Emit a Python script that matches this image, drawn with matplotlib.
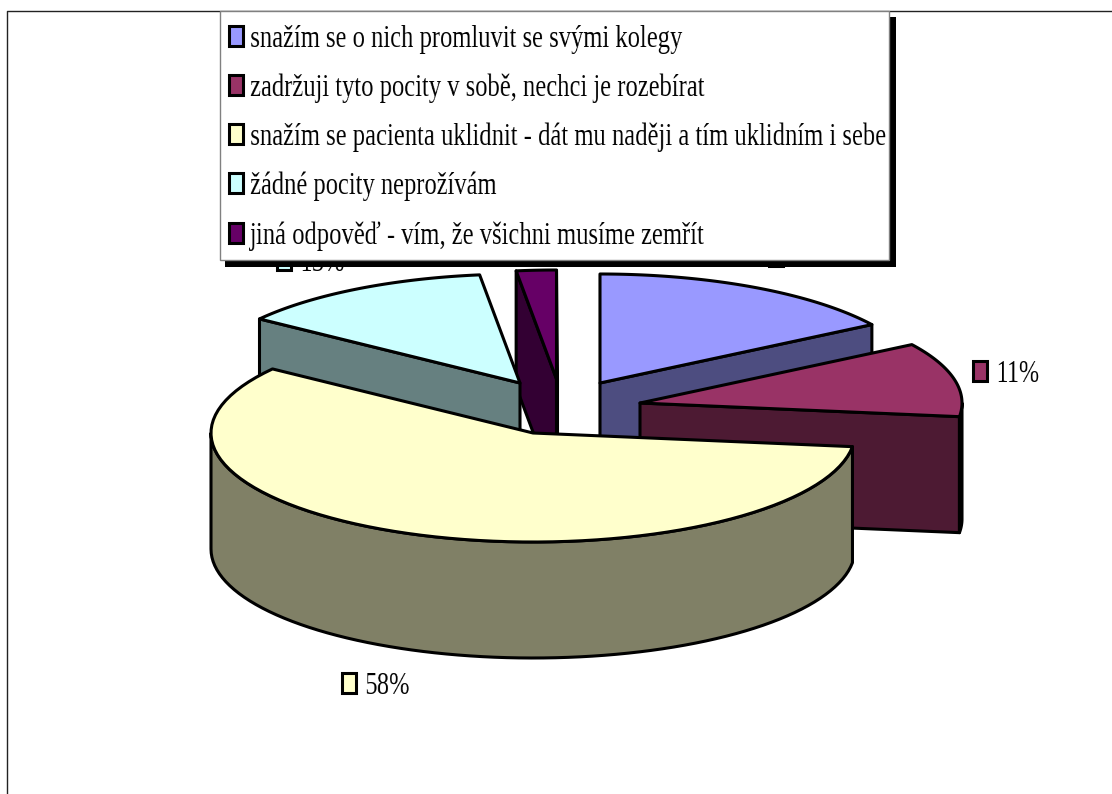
import numpy as np
import matplotlib
matplotlib.use('Agg')
import matplotlib.pyplot as plt
from matplotlib.patches import Polygon, Rectangle

plt.rcParams['font.family'] = ['Liberation Serif', 'DejaVu Serif']

categories = [
    'snažím se o nich promluvit se svými kolegy',
    'zadržuji tyto pocity v sobě, nechci je rozebírat',
    'snažím se pacienta uklidnit - dát mu naději a tím uklidním i sebe',
    'žádné pocity neprožívám',
    'jiná odpověď - vím, že všichni musíme zemřít',
]
percent = [16, 11, 58, 13, 2]
colors = ['#9999FF', '#993366', '#FFFFCC', '#CCFFFF', '#660066']

# layout of the exploded pie, in pixels
apex = [(600, 383), (640, 403), (533, 433), (520, 383), (556.5, 379)]
draw_order = [0, 1, 4, 3, 2]
rx, ry = 322, 109
depth = 116
edge_lw = 2.2

# where the value labels sit (key left edge, key centre y, font size);
# the legend hides the first one and most of the 13 %
label_pos = [(767, 255.5, 17), (971, 370.5, 23), (340, 682.5, 23), (275.5, 260, 23), None]


def squeeze(img, dpi, factor=0.77):
    # narrows a rendered text horizontally, the glyphs keep their height
    h, w = img.shape[:2]
    new_w = max(int(w * factor), 1)
    xs = np.linspace(0, w - 1, new_w)
    x0 = np.floor(xs).astype(int)
    x1 = np.minimum(x0 + 1, w - 1)
    t = (xs - x0)[None, :, None]
    return img[:, x0] * (1 - t) + img[:, x1] * t, 0, 0


def rim(i, a, b, n=80):
    t = np.radians(np.linspace(a, b, n))
    return np.column_stack([apex[i][0] + rx * np.sin(t), apex[i][1] - ry * np.cos(t)])


def shade(c):
    return tuple(v * 0.5 for v in matplotlib.colors.to_rgb(c))


def draw_slice(ax, i, start, end):
    side = shade(colors[i])
    ax_kw = dict(facecolor=side, edgecolor='black', lw=edge_lw, joinstyle='round', zorder=2)
    # radial walls, only those facing the viewer
    walls = []
    if 180 < start % 360 or start % 360 == 0:
        walls.append(start)
    if end % 360 < 180:
        walls.append(end)
    for w in walls:
        p = rim(i, w, w, 1)[0]
        a = np.array(apex[i])
        ax.add_patch(Polygon([a, p, p + [0, depth], a + [0, depth]], **ax_kw))
    # outer wall along the front half of the ellipse
    lo, hi = max(start, 90), min(end, 270)
    if lo < hi:
        arc = rim(i, lo, hi)
        ax.add_patch(Polygon(np.vstack([arc, arc[::-1] + [0, depth]]), **ax_kw))
    top = np.vstack([[apex[i]], rim(i, start, end)])
    ax.add_patch(Polygon(top, facecolor=colors[i], edgecolor='black', lw=edge_lw,
                         joinstyle='round', zorder=2))


def draw_key(ax, x, yc, color, zorder):
    ax.add_patch(Rectangle((x + 1.5, yc - 10), 14, 20, facecolor=color, edgecolor='black',
                           lw=edge_lw, zorder=zorder))


def draw_text(ax, x, yc, s, zorder, size=23):
    t = ax.text(x, yc + 11, s, fontsize=size, va='baseline', ha='left', color='black',
                zorder=zorder)
    t.set_agg_filter(squeeze)


fig = plt.figure(figsize=(11.12, 7.94), dpi=100)
ax = fig.add_axes([0, 0, 1, 1])
ax.set_xlim(0, 1112)
ax.set_ylim(794, 0)
ax.axis('off')

# chart area border, runs off the right and the bottom
ax.plot([6.5, 6.5, 1112], [794, 10.5, 10.5], color='#222222', lw=1, zorder=1)

bounds = np.concatenate([[0], np.cumsum(percent)]) * 360 / sum(percent)
for i in draw_order:
    draw_slice(ax, i, bounds[i], bounds[i + 1])

for i, pos in enumerate(label_pos):
    if pos is None:
        continue
    draw_key(ax, pos[0], pos[1], colors[i], 3)
    draw_text(ax, pos[0] + 24, pos[1], f'{percent[i]}%', 3, pos[2])

# legend box with its hard shadow
ax.add_patch(Rectangle((225, 17), 671, 250, facecolor='black', edgecolor='none', zorder=4))
ax.add_patch(Rectangle((219.5, 11), 669.5, 248.5, facecolor='white', edgecolor='#808080',
                       lw=1, zorder=5))
for k, name in enumerate(categories):
    yc = 35.5 + 49.3 * k
    draw_key(ax, 227, yc, colors[k], 6)
    draw_text(ax, 250, yc, name, 6)

fig.savefig('out.png', dpi=100)
